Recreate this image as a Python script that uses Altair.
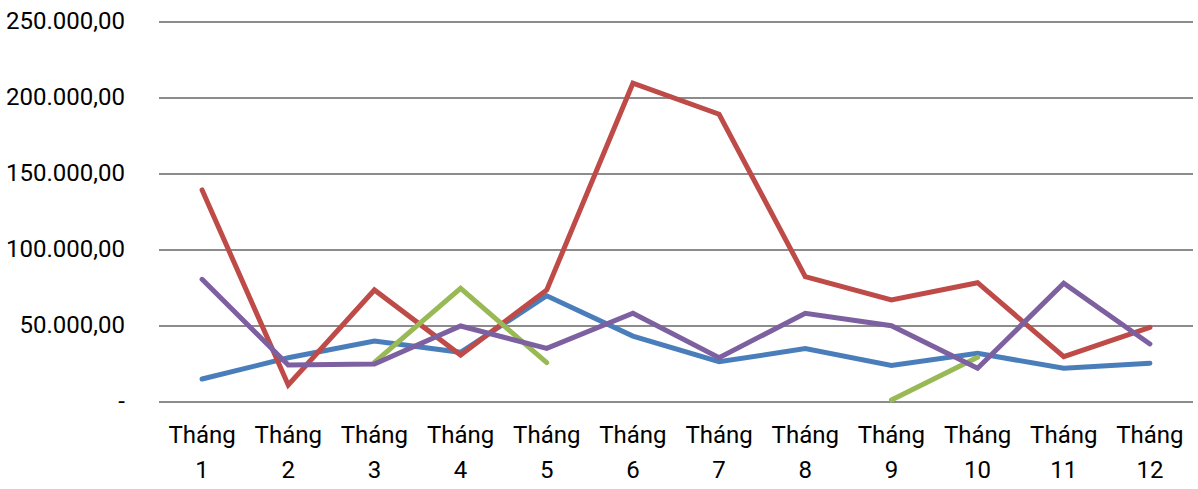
import altair as alt
import pandas as pd

# Monthly values for the four series (None = no value that month)
months = [f"Tháng {i}" for i in range(1, 13)]
series_blue = [15100, 29100, 40100, 32700, 69900, 43400, 26500, 35100, 24100, 32000, 22200, 25500]
series_red = [139500, 11200, 73700, 30900, 73700, 209700, 189300, 82500, 67100, 78500, 29800, 49100]
series_green = [None, None, 26000, 74800, 25900, None, None, None, 1300, 29400, None, None]
series_purple = [80700, 24300, 25000, 50000, 35300, 58400, 29100, 58400, 50200, 22200, 78100, 38200]

series_names = ["Chuỗi 1", "Chuỗi 2", "Chuỗi 3", "Chuỗi 4"]
series_colors = ["#4A7EBB", "#BE4B48", "#98B954", "#7D60A0"]

# Y axis ticks and their accounting-style labels
y_ticks = [0, 50000, 100000, 150000, 200000, 250000]
y_labels = ["-\u2007", "50.000,00", "100.000,00", "150.000,00", "200.000,00", "250.000,00"]

PLOT_W = 1034
PLOT_H = 380
FONT = "Roboto"
FONT_SIZE = 24

rows = []
for name, values in zip(series_names, [series_blue, series_red, series_green, series_purple]):
    seg = 0
    prev_valid = False
    for m, v in zip(months, values):
        if v is None:
            prev_valid = False
            continue
        if not prev_valid:
            seg += 1
        prev_valid = True
        rows.append({"month": m, "value": v, "series": name, "segment": f"{name}-{seg}"})
df = pd.DataFrame(rows)
tick_df = pd.DataFrame({"value": y_ticks, "label": y_labels})
month_df = pd.DataFrame({"month": months})

y_scale = alt.Scale(domain=[0, 250000], nice=False, zero=True)
x_scale = alt.Scale(domain=months, paddingInner=0, paddingOuter=0.5)

# Horizontal gridlines at each tick value
grid = (
    alt.Chart(tick_df)
    .mark_rule(color="#8C8C8C", strokeWidth=2)
    .encode(
        y=alt.Y("value:Q", scale=y_scale, axis=None),
        x=alt.value(0),
        x2=alt.value(PLOT_W),
    )
)

# Y tick labels, right-aligned left of the plot
y_text = (
    alt.Chart(tick_df)
    .mark_text(align="right", baseline="middle", font=FONT, fontSize=FONT_SIZE, color="#000000")
    .encode(
        y=alt.Y("value:Q", scale=y_scale, axis=None),
        x=alt.value(-34),
        text="label:N",
    )
)

# Two-line month labels under each category
x_text = (
    alt.Chart(month_df)
    .mark_text(
        align="center",
        baseline="top",
        font=FONT,
        fontSize=FONT_SIZE,
        color="#000000",
        lineBreak=" ",
        lineHeight=35,
    )
    .encode(
        x=alt.X("month:N", sort=months, scale=x_scale, axis=None),
        y=alt.value(PLOT_H + 22),
        text="month:N",
    )
)

lines = (
    alt.Chart(df)
    .mark_line(strokeWidth=5, strokeCap="round", strokeJoin="miter")
    .encode(
        x=alt.X("month:N", sort=months, scale=x_scale, axis=None),
        y=alt.Y("value:Q", scale=y_scale, axis=None),
        color=alt.Color(
            "series:N",
            scale=alt.Scale(domain=series_names, range=series_colors),
            legend=None,
        ),
        detail="segment:N",
    )
)

chart = (
    alt.layer(grid, lines, y_text, x_text)
    .properties(
        width=PLOT_W,
        height=PLOT_H,
        autosize=alt.AutoSizeParams(type="none"),
        padding={"left": 159, "top": 22, "right": 5, "bottom": 87},
    )
    .configure_view(stroke="transparent", strokeWidth=0, strokeOpacity=0)
    .configure(background="#FFFFFF", style={"cell": {"stroke": "transparent", "strokeWidth": 0}})
)

chart.save("out.html", embed_options={"renderer": "svg", "actions": False})
